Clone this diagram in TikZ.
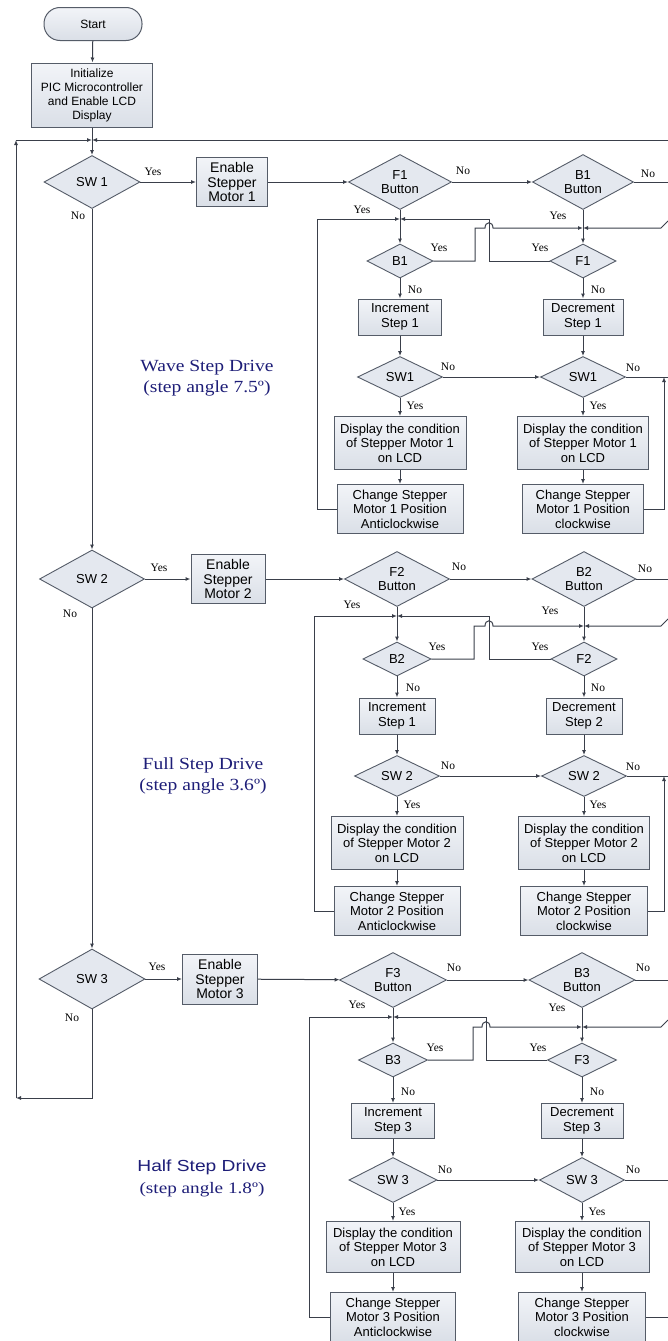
\documentclass[tikz,border=0pt]{standalone}
\usepackage{fontspec}
\setmainfont{Liberation Sans}
\newfontfamily\yn{Liberation Serif}
\usetikzlibrary{shapes.geometric,arrows.meta}
\definecolor{ln}{RGB}{58,63,74}
\definecolor{bd}{RGB}{85,92,104}
\definecolor{fl}{RGB}{228,232,239}
\definecolor{flt}{RGB}{242,244,248}
\definecolor{flb}{RGB}{218,223,231}
\definecolor{navy}{RGB}{30,30,120}
\begin{document}
\begin{tikzpicture}[x=1pt,y=-1pt,
  every node/.style={inner sep=0pt},
  box/.style={draw=bd,line width=1pt,top color=flt,bottom color=flb,align=center,font=\fontsize{13}{14.5}\selectfont},
  dec/.style={diamond,aspect=2,draw=bd,line width=0.9pt,fill=fl,align=center,font=\fontsize{13}{14.5}\selectfont},
  lbl/.style={font=\yn\fontsize{11.5}{12}\selectfont},
  conn/.style={draw=ln,line width=1pt},
  arr/.style={conn,-{Latex[length=5pt,width=4pt]}},
  drive/.style={text=navy,align=center}
]
\useasboundingbox (0,0) rectangle (668,1341);
\fill[white] (0,0) rectangle (668,1341);
% ---------- main column ----------
\node[box,rounded corners=16,minimum width=98,minimum height=33,font=\fontsize{12}{14}\selectfont] (start) at (93,24) {Start};
\node[box,minimum width=121,minimum height=64,font=\fontsize{12}{14}\selectfont] (init) at (92,95) {Initialize\\PIC Microcontroller\\and Enable LCD\\Display};
\coordinate (j0) at (92,140);
\node[dec,minimum width=96,minimum height=53] (sw1) at (92,182) {SW 1};
\node[dec,minimum width=105,minimum height=58] (sw2) at (92,579) {SW 2};
\node[dec,minimum width=106,minimum height=60] (sw3) at (92,979) {SW 3};
\node[box,minimum width=71,minimum height=49,font=\fontsize{14}{14.5}\selectfont] (en1) at (232,182) {Enable\\Stepper\\Motor 1};
\node[box,minimum width=74,minimum height=49,font=\fontsize{14}{14.5}\selectfont] (en2) at (228,579) {Enable\\Stepper\\Motor 2};
\node[box,minimum width=75,minimum height=50,font=\fontsize{14}{14.5}\selectfont] (en3) at (220,979) {Enable\\Stepper\\Motor 3};
\coordinate (lb) at (92,1098);
\coordinate (lbl) at (16,1098);
\coordinate (ltl) at (16,140);
\coordinate (tr) at (668,140);
\draw[arr] (start) -- (init);
\draw[conn] (init) -- (j0);
\draw[arr] (j0) -- (sw1);
\draw[arr] (sw1) -- (sw2);
\draw[arr] (sw2) -- (sw3);
\draw[arr] (sw3) -- (lb) -- (lbl);
\draw[arr] (lbl) -- (ltl);
\draw[arr] (ltl) -- (j0);
\draw[arr] (tr) -- (j0);
\draw[arr] (sw1) -- (en1);
\draw[arr] (sw2) -- (en2);
\draw[arr] (sw3) -- (en3);
\node[lbl] (y1) at (153,172) {Yes};
\node[lbl] (n1) at (78,216) {No};
\node[lbl] (y2) at (159,568) {Yes};
\node[lbl] (n2) at (70,614) {No};
\node[lbl] (y3) at (157,967) {Yes};
\node[lbl] (n3) at (72,1018) {No};
% ---------- section 1 ----------
\node[dec,minimum width=103,minimum height=55] (fb1) at (400,182) {F1\\Button};
\node[dec,minimum width=101,minimum height=55] (bb1) at (583,182) {B1\\Button};
\coordinate (ja1) at (400,219);
\coordinate (jb1) at (583,228);
\node[dec,minimum width=66,minimum height=34] (bs1) at (400,261) {B1};
\node[dec,minimum width=66,minimum height=34] (fs1) at (583,261) {F1};
\node[box,minimum width=83,minimum height=36] (inc1) at (400,317) {Increment\\Step 1};
\node[box,minimum width=80,minimum height=36] (dcr1) at (583,317) {Decrement\\Step 1};
\node[dec,minimum width=85,minimum height=41] (swa1) at (400,377) {SW1};
\node[dec,minimum width=85,minimum height=41] (swb1) at (583,377) {SW1};
\node[box,minimum width=132,minimum height=53] (dia1) at (400,443) {Display the condition\\of Stepper Motor 1\\on LCD};
\node[box,minimum width=131,minimum height=53] (dib1) at (583,443) {Display the condition\\of Stepper Motor 1\\on LCD};
\node[box,minimum width=126,minimum height=49] (cha1) at (400,509) {Change Stepper\\Motor 1 Position\\Anticlockwise};
\node[box,minimum width=121,minimum height=49] (chb1) at (583,509) {Change Stepper\\Motor 1 Position\\clockwise};
\coordinate (la1) at (317,509);
\coordinate (lt1) at (317,219);
\coordinate (hf1) at (489,219);
\coordinate (hb1) at (475,261);
\coordinate (hp1) at (485,228);
\coordinate (hq1) at (493,228);
\coordinate (eb1) at (668,182);
\coordinate (er1) at (668,221);
\coordinate (es1) at (661,228);
\coordinate (ew1) at (668,377);
\coordinate (rv1) at (664,509);
\coordinate (ru1) at (664,377);
\draw[arr] (en1) -- (fb1);
\draw[arr] (fb1) -- (bb1);
\draw[conn] (bb1) -- (eb1);
\draw[arr] (fb1) -- (bs1);
\draw[arr] (bb1) -- (fs1);
\draw[arr] (cha1.west) -- (la1) -- (lt1) -- (ja1);
\draw[arr] (fs1.west) -| (hf1) -- (ja1);
\draw[arr] (bs1.east) -- (hb1) |- (hp1) .. controls ([yshift=7pt]hp1) and ([yshift=7pt]hq1) .. (hq1) -- (jb1);
\draw[arr] (er1) -- (es1) -- (jb1);
\draw[arr] (bs1) -- (inc1);
\draw[arr] (fs1) -- (dcr1);
\draw[arr] (inc1) -- (swa1);
\draw[arr] (dcr1) -- (swb1);
\draw[arr] (swa1) -- (swb1);
\draw[conn] (swb1) -- (ew1);
\draw[arr] (swa1) -- (dia1);
\draw[arr] (swb1) -- (dib1);
\draw[arr] (dia1) -- (cha1);
\draw[arr] (dib1) -- (chb1);
\draw[arr] (chb1.east) -- (rv1) -- (ru1);
\node[lbl] at (463,171) {No};
\node[lbl] at (648,174) {No};
\node[lbl] at (362,210) {Yes};
\node[lbl] at (558,216) {Yes};
\node[lbl] at (439,248) {Yes};
\node[lbl] at (540,248) {Yes};
\node[lbl] at (415,290) {No};
\node[lbl] at (598,290) {No};
\node[lbl] at (448,367) {No};
\node[lbl] at (633,368) {No};
\node[lbl] at (415,406) {Yes};
\node[lbl] at (598,406) {Yes};
% ---------- section 2 ----------
\node[dec,minimum width=105,minimum height=55] (fb2) at (397,579) {F2\\Button};
\node[dec,minimum width=104,minimum height=55] (bb2) at (584,579) {B2\\Button};
\coordinate (ja2) at (397,616);
\coordinate (jb2) at (584,626);
\node[dec,minimum width=68,minimum height=34] (bs2) at (397,659) {B2};
\node[dec,minimum width=66,minimum height=34] (fs2) at (584,659) {F2};
\node[box,minimum width=76,minimum height=36] (inc2) at (397,716) {Increment\\Step 1};
\node[box,minimum width=76,minimum height=36] (dcr2) at (584,716) {Decrement\\Step 2};
\node[dec,minimum width=85,minimum height=41] (swa2) at (397,776) {SW 2};
\node[dec,minimum width=85,minimum height=41] (swb2) at (584,776) {SW 2};
\node[box,minimum width=132,minimum height=53] (dia2) at (397,843) {Display the condition\\of Stepper Motor 2\\on LCD};
\node[box,minimum width=131,minimum height=53] (dib2) at (584,843) {Display the condition\\of Stepper Motor 2\\on LCD};
\node[box,minimum width=126,minimum height=49] (cha2) at (397,911) {Change Stepper\\Motor 2 Position\\Anticlockwise};
\node[box,minimum width=127,minimum height=49] (chb2) at (584,911) {Change Stepper\\Motor 2 Position\\clockwise};
\coordinate (la2) at (314,911);
\coordinate (lt2) at (314,616);
\coordinate (hf2) at (489,616);
\coordinate (hb2) at (474,659);
\coordinate (hp2) at (485,626);
\coordinate (hq2) at (493,626);
\coordinate (eb2) at (668,579);
\coordinate (er2) at (668,619);
\coordinate (es2) at (661,626);
\coordinate (ew2) at (668,776);
\coordinate (rv2) at (664,911);
\coordinate (ru2) at (664,776);
\draw[arr] (en2) -- (fb2);
\draw[arr] (fb2) -- (bb2);
\draw[conn] (bb2) -- (eb2);
\draw[arr] (fb2) -- (bs2);
\draw[arr] (bb2) -- (fs2);
\draw[arr] (cha2.west) -- (la2) -- (lt2) -- (ja2);
\draw[arr] (fs2.west) -| (hf2) -- (ja2);
\draw[arr] (bs2.east) -- (hb2) |- (hp2) .. controls ([yshift=7pt]hp2) and ([yshift=7pt]hq2) .. (hq2) -- (jb2);
\draw[arr] (er2) -- (es2) -- (jb2);
\draw[arr] (bs2) -- (inc2);
\draw[arr] (fs2) -- (dcr2);
\draw[arr] (inc2) -- (swa2);
\draw[arr] (dcr2) -- (swb2);
\draw[arr] (swa2) -- (swb2);
\draw[conn] (swb2) -- (ew2);
\draw[arr] (swa2) -- (dia2);
\draw[arr] (swb2) -- (dib2);
\draw[arr] (dia2) -- (cha2);
\draw[arr] (dib2) -- (chb2);
\draw[arr] (chb2.east) -- (rv2) -- (ru2);
\node[lbl] at (459,567) {No};
\node[lbl] at (645,569) {No};
\node[lbl] at (352,605) {Yes};
\node[lbl] at (550,611) {Yes};
\node[lbl] at (437,647) {Yes};
\node[lbl] at (540,647) {Yes};
\node[lbl] at (413,688) {No};
\node[lbl] at (598,688) {No};
\node[lbl] at (448,766) {No};
\node[lbl] at (633,767) {No};
\node[lbl] at (412,805) {Yes};
\node[lbl] at (598,805) {Yes};
% ---------- section 3 ----------
\node[dec,minimum width=107,minimum height=55] (fb3) at (393,980) {F3\\Button};
\node[dec,minimum width=106,minimum height=55] (bb3) at (582,980) {B3\\Button};
\coordinate (ja3) at (393,1017);
\coordinate (jb3) at (582,1027);
\node[dec,minimum width=69,minimum height=34] (bs3) at (393,1060) {B3};
\node[dec,minimum width=69,minimum height=34] (fs3) at (582,1060) {F3};
\node[box,minimum width=83,minimum height=35] (inc3) at (393,1121) {Increment\\Step 3};
\node[box,minimum width=82,minimum height=35] (dcr3) at (582,1121) {Decrement\\Step 3};
\node[dec,minimum width=88,minimum height=45] (swa3) at (393,1180) {SW 3};
\node[dec,minimum width=85,minimum height=45] (swb3) at (582,1180) {SW 3};
\node[box,minimum width=134,minimum height=51] (dia3) at (393,1247) {Display the condition\\of Stepper Motor 3\\on LCD};
\node[box,minimum width=134,minimum height=51] (dib3) at (582,1247) {Display the condition\\of Stepper Motor 3\\on LCD};
\node[box,minimum width=125,minimum height=49] (cha3) at (393,1317) {Change Stepper\\Motor 3 Position\\Anticlockwise};
\node[box,minimum width=127,minimum height=49] (chb3) at (582,1317) {Change Stepper\\Motor 3 Position\\clockwise};
\coordinate (la3) at (309,1317);
\coordinate (lt3) at (309,1017);
\coordinate (hf3) at (486,1017);
\coordinate (hb3) at (473,1060);
\coordinate (hp3) at (482,1027);
\coordinate (hq3) at (490,1027);
\coordinate (eb3) at (668,980);
\coordinate (er3) at (668,1020);
\coordinate (es3) at (661,1027);
\coordinate (ew3) at (668,1180);
\coordinate (rv3) at (668,1317);
\draw[arr] (en3) -- (fb3);
\draw[arr] (fb3) -- (bb3);
\draw[conn] (bb3) -- (eb3);
\draw[arr] (fb3) -- (bs3);
\draw[arr] (bb3) -- (fs3);
\draw[arr] (cha3.west) -- (la3) -- (lt3) -- (ja3);
\draw[arr] (fs3.west) -| (hf3) -- (ja3);
\draw[arr] (bs3.east) -- (hb3) |- (hp3) .. controls ([yshift=7pt]hp3) and ([yshift=7pt]hq3) .. (hq3) -- (jb3);
\draw[arr] (er3) -- (es3) -- (jb3);
\draw[arr] (bs3) -- (inc3);
\draw[arr] (fs3) -- (dcr3);
\draw[arr] (inc3) -- (swa3);
\draw[arr] (dcr3) -- (swb3);
\draw[arr] (swa3) -- (swb3);
\draw[conn] (swb3) -- (ew3);
\draw[arr] (swa3) -- (dia3);
\draw[arr] (swb3) -- (dib3);
\draw[arr] (dia3) -- (cha3);
\draw[arr] (dib3) -- (chb3);
\draw[conn] (chb3.east) -- (rv3);
\node[lbl] at (454,968) {No};
\node[lbl] at (643,968) {No};
\node[lbl] at (357,1005) {Yes};
\node[lbl] at (557,1008) {Yes};
\node[lbl] at (435,1048) {Yes};
\node[lbl] at (538,1048) {Yes};
\node[lbl] at (408,1092) {No};
\node[lbl] at (597,1092) {No};
\node[lbl] at (445,1170) {No};
\node[lbl] at (633,1170) {No};
\node[lbl] at (407,1212) {Yes};
\node[lbl] at (597,1212) {Yes};
% ---------- drive labels ----------
\node[drive,font=\yn\fontsize{17}{21}\selectfont,xscale=1.15] (wave) at (207,378) {Wave Step Drive\\(step angle 7.5º)};
\node[drive,font=\yn\fontsize{17}{21}\selectfont,xscale=1.15] (full) at (203,776) {Full Step Drive\\(step angle 3.6º)};
\node[drive,font=\fontsize{16}{22}\selectfont,xscale=1.2] (half) at (202,1178) {Half Step Drive\\{\yn(step angle 1.8º)}};
\end{tikzpicture}
\end{document}
